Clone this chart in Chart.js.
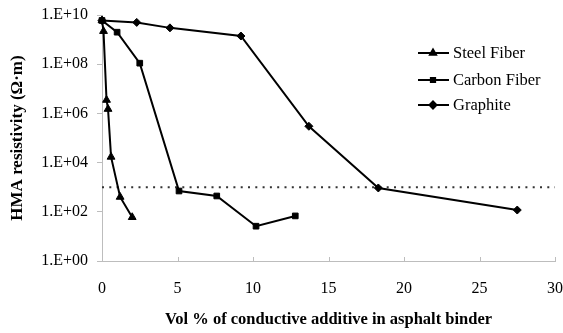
<!DOCTYPE html>
<html>
<head>
<meta charset="utf-8">
<script src="https://cdn.jsdelivr.net/npm/chart.js@4.4.1/dist/chart.umd.min.js"></script>
<style>
  html, body { margin: 0; padding: 0; background: #fff; }
  #wrap { width: 563px; height: 333px; }
</style>
</head>
<body>
<div id="wrap"><canvas id="resChart" width="563" height="333"></canvas></div>
<script>
// resistivity (ohm-m) vs vol % of additive
const steelX = [0, 0.1, 0.3, 0.4, 0.6, 1.2, 2.0];
const steelY = [6e9, 2.2e9, 3.5e6, 1.5e6, 1.7e4, 400, 60];

const carbonX = [0, 1.0, 2.5, 5.1, 7.6, 10.2, 12.8];
const carbonY = [6e9, 2e9, 1.1e8, 700, 440, 26, 68];

const graphiteX = [0, 2.3, 4.5, 9.2, 13.7, 18.3, 27.5];
const graphiteY = [6e9, 5e9, 3e9, 1.4e9, 3e5, 930, 118];

const thresholdX = [0, 30];
const thresholdY = [1000, 1000];

const xTicks = [0, 5, 10, 15, 20, 25, 30];
const yTicks = [1, 1e2, 1e4, 1e6, 1e8, 1e10];

const SERIF = "'Liberation Serif', 'Times New Roman', serif";

function pts(xs, ys) {
  return xs.map((x, i) => ({ x: x, y: ys[i] }));
}

function series(label, xs, ys, style, radius, order) {
  return {
    label: label,
    data: pts(xs, ys),
    borderColor: "#000",
    backgroundColor: "#000",
    borderWidth: 2,
    pointStyle: style,
    pointRadius: radius,
    pointBorderWidth: 1,
    showLine: true,
    clip: false,
    order: order,
  };
}

// legend drawn inside the plot, top right
const legendPlugin = {
  id: "sideLegend",
  afterDraw(chart) {
    const ctx = chart.ctx;
    const rows = [53, 80, 105];
    let r = 0;
    chart.data.datasets.forEach((ds) => {
      if (ds.hideInLegend) return;
      const y = rows[r++];
      ctx.save();
      ctx.strokeStyle = "#000";
      ctx.lineWidth = 2;
      ctx.beginPath();
      ctx.moveTo(418, y);
      ctx.lineTo(449, y);
      ctx.stroke();
      Chart.helpers.drawPoint(ctx, {
        pointStyle: ds.pointStyle,
        radius: ds.legendRadius,
        borderWidth: 1,
      }, 433, y);
      ctx.fillStyle = "#000";
      ctx.font = "16.5px " + SERIF;
      ctx.textBaseline = "middle";
      ctx.fillText(ds.label, 453, y + 1);
      ctx.restore();
    });
  },
};

// short x tick marks pointing up into the plot
const xTickPlugin = {
  id: "innerXTicks",
  afterDraw(chart) {
    const xs = chart.scales.x;
    const ctx = chart.ctx;
    ctx.save();
    ctx.strokeStyle = "#bdbdbd";
    ctx.lineWidth = 1;
    xTicks.forEach((v) => {
      const px = Math.round(xs.getPixelForValue(v)) + 0.5;
      ctx.beginPath();
      ctx.moveTo(px, xs.top);
      ctx.lineTo(px, xs.top - 4);
      ctx.stroke();
    });
    ctx.restore();
  },
};

const steel = series("Steel Fiber", steelX, steelY, "triangle", 4.5, 2);
steel.legendRadius = 3.5;
const carbon = series("Carbon Fiber", carbonX, carbonY, "rect", 4, 0);
carbon.legendRadius = 3;
const graphite = series("Graphite", graphiteX, graphiteY, "rectRot", 4, 1);
graphite.legendRadius = 3.5;

const threshold = {
  label: "threshold",
  data: pts(thresholdX, thresholdY),
  borderColor: "#333",
  borderWidth: 2,
  borderDash: [2, 5.3],
  pointRadius: 0,
  showLine: true,
  clip: false,
  order: 3,
  hideInLegend: true,
};

function draw() {
  new Chart(document.getElementById("resChart"), {
    type: "scatter",
    data: { datasets: [steel, carbon, graphite, threshold] },
    plugins: [legendPlugin, xTickPlugin],
    options: {
      responsive: false,
      animation: false,
      devicePixelRatio: 1,
      layout: { padding: { left: 0, right: 8, top: 15, bottom: 0 } },
      plugins: {
        legend: { display: false },
        tooltip: { enabled: false },
      },
      scales: {
        x: {
          type: "linear",
          min: 0,
          max: 30,
          afterBuildTicks: (s) => { s.ticks = xTicks.map((v) => ({ value: v })); },
          afterFit: (s) => { s.height = 72; s.paddingLeft = 0; s.paddingRight = 0; },
          grid: { display: true, drawOnChartArea: false, drawTicks: false },
          border: { display: true, color: "#bdbdbd", width: 1 },
          ticks: {
            color: "#000",
            padding: 18,
            maxRotation: 0,
            font: { family: SERIF, size: 16 },
          },
          title: {
            display: true,
            text: "Vol % of conductive additive in asphalt binder",
            color: "#000",
            padding: { top: 0, bottom: 3 },
            font: { family: SERIF, size: 16.5, weight: "bold" },
          },
        },
        y: {
          type: "logarithmic",
          min: 1,
          max: 1e10,
          afterBuildTicks: (s) => { s.ticks = yTicks.map((v) => ({ value: v })); },
          afterFit: (s) => { s.width = 102; s.paddingTop = 0; s.paddingBottom = 0; },
          grid: { display: true, drawOnChartArea: false, drawTicks: true, tickLength: 5, color: "#bdbdbd" },
          border: { display: true, color: "#bdbdbd", width: 1 },
          ticks: {
            color: "#000",
            padding: 9,
            font: { family: SERIF, size: 16 },
            callback: (v) => "1.E+" + String(Math.round(Math.log10(v))).padStart(2, "0"),
          },
          title: {
            display: true,
            text: "HMA resistivity (Ω·m)",
            color: "#000",
            padding: { top: 7, bottom: 0 },
            font: { family: SERIF, size: 17, weight: "bold" },
          },
        },
      },
    },
  });
}

// make sure the serif faces are ready before the canvas text is drawn
Promise.all([
  document.fonts.load("16px 'Liberation Serif'"),
  document.fonts.load("bold 16px 'Liberation Serif'"),
]).then(draw, draw);
</script>
</body>
</html>
